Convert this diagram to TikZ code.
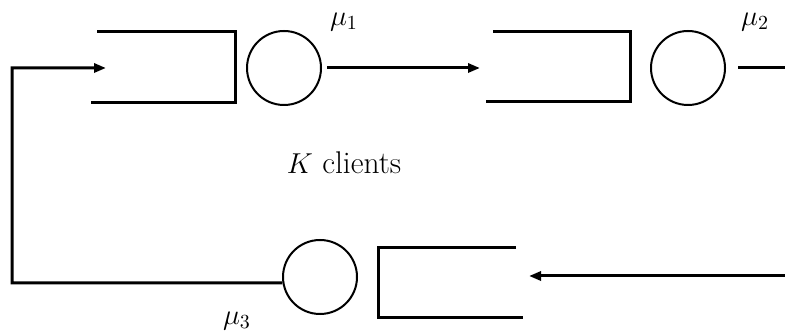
\documentclass[tikz,border=0pt]{standalone}
\usetikzlibrary{arrows.meta}
\begin{document}
\begin{tikzpicture}[x=0.5pt,y=-0.5pt,
  thickline/.style={line width=1.5pt,line join=miter},
  server/.style={circle,draw,line width=1pt,minimum size=37pt,inner sep=0pt},
  flow/.style={line width=1.5pt,line join=miter,-{Triangle[length=6pt,width=4.5pt]}},
  lbl/.style={font=\fontsize{14.6}{17}\selectfont,inner sep=0pt},
  big/.style={font=\fontsize{15.7}{19}\selectfont,inner sep=0pt}]
\useasboundingbox (0,0) rectangle (785,335);
% queue 1
\draw[thickline] (97,32) -- (235,32) -- (235,103) -- (91,103);
\node[server] (s1) at (284,68) {};
\coordinate (q1in) at (106,68);
% queue 2
\draw[thickline] (493,32) -- (630,32) -- (630,102) -- (486,102);
\node[server] (s2) at (688,68) {};
\coordinate (q2in) at (480,68);
\coordinate (out2) at (785,68);
% queue 3
\draw[thickline] (516,248) -- (378,248) -- (378,318) -- (523,318);
\node[server] (s3) at (320,277) {};
\coordinate (q3in) at (529,276);
\coordinate (in3) at (785,276);
\coordinate (c1) at (12,283);
\coordinate (c2) at (12,68);
% connectors
\draw[flow] ([xshift=2.5pt]s1.east) -- (q2in);
\draw[thickline] ([xshift=6pt]s2.east) -- (out2);
\draw[flow] (in3) -- (q3in);
\draw[flow] (s3.189) -- (c1) -- (c2) -- (q1in);
% labels
\node[lbl] (m1) at (344,22) {$\mu_1$};
\node[lbl] (m2) at (755,22) {$\mu_2$};
\node[lbl] (m3) at (237,321) {$\mu_3$};
\node[big] (k) at (344,163) {$K$ clients};
\end{tikzpicture}
\end{document}
